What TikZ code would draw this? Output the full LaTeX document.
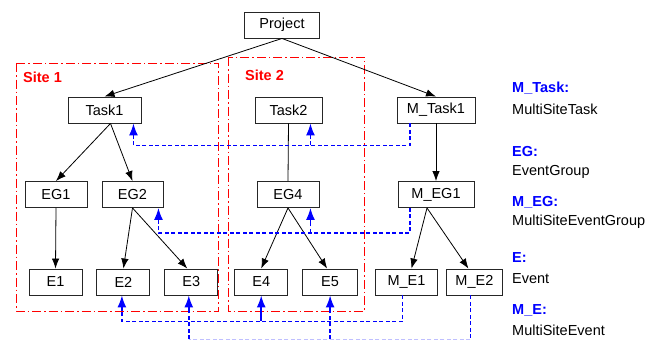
\documentclass[tikz,border=0pt]{standalone}
\usepackage{fontspec}
\setmainfont{Liberation Sans}
\usetikzlibrary{positioning}
\usetikzlibrary{arrows.meta}
\tikzset{>={Latex[width=7.5pt,length=10pt]}}

\begin{document}
\begin{tikzpicture}[x=1pt, y=-1pt, box/.style={rectangle, draw=black!85, line width=0.9pt, minimum height=26pt, inner sep=0pt, font=\fontsize{14.5}{17}\selectfont}, ebox/.style={box, minimum width=53pt}, link/.style={->, line width=0.8pt}, bus/.style={draw=blue, line width=1.5pt, dash pattern=on 4pt off 2.5pt}, bustip/.style={draw=blue, line width=1.5pt, -{Latex[width=9pt,length=12pt]}}, sitebox/.style={draw=red, line width=0.9pt, dash pattern=on 9pt off 3pt on 1.5pt off 3pt}, sitename/.style={text=red, font=\fontsize{14.5}{17}\selectfont\bfseries, anchor=west, inner sep=0pt}, keyname/.style={text=blue, font=\fontsize{14.5}{17}\selectfont\bfseries, anchor=west, inner sep=0pt}, keytext/.style={font=\fontsize{14.5}{17}\selectfont, anchor=west, inner sep=0pt}]
    \useasboundingbox (0,0) rectangle (662,340);
    
    %Sites
    \draw[sitebox] (16,63) rectangle (218,311);
    \draw[sitebox] (228,57) rectangle (364,311);
    \node[sitename](site1) at (23,77){Site 1};
    \node[sitename](site2) at (245,75){Site 2};
    
    %Nodes
    \node[box, minimum width=75pt](project) at (282,25){Project};
    \node[box, minimum width=73pt](task1) at (104.5,110){Task1};
    \node[box, minimum width=67pt](task2) at (288.5,110){Task2};
    \node[box, minimum width=78pt](mtask1) at (436,110){M\_Task1};
    \node[box, minimum width=62pt](eg1) at (56,194.5){EG1};
    \node[box, minimum width=61pt](eg2) at (132.5,194.5){EG2};
    \node[box, minimum width=62pt](eg4) at (288,194.5){EG4};
    \node[box, minimum width=76pt](meg1) at (436,194.5){M\_EG1};
    \node[ebox](e1) at (55.5,282){E1};
    \node[ebox](e2)[right=14pt of e1]{E2};
    \node[ebox](e3)[right=14pt of e2]{E3};
    \node[ebox](e4)[right=16pt of e3]{E4};
    \node[ebox, minimum width=55pt](e5)[right=14pt of e4]{E5};
    \node[box, minimum width=62pt](me1)[right=17pt of e5]{M\_E1};
    \node[box, minimum width=56pt](me2)[right=8pt of me1]{M\_E2};
    
    %Legend
    \node[keyname](kmtask) at (512,88){M\_Task:};
    \node[keytext](dmtask) at (512,109){MultiSiteTask};
    \node[keyname](keg) at (512,152){EG:};
    \node[keytext](deg) at (512,172){EventGroup};
    \node[keyname](kmeg) at (512,202){M\_EG:};
    \node[keytext](dmeg) at (512,222){MultiSiteEventGroup};
    \node[keyname](ke) at (512,258){E:};
    \node[keytext](de) at (512,279){Event};
    \node[keyname](kme) at (512,310){M\_E:};
    \node[keytext](dme) at (512,330){MultiSiteEvent};
    
    %Lines
    \draw[link] (project.south) -- (task1.north);
    \draw[link] (project.south) -- (mtask1.north);
    \draw[link] ([xshift=6pt]task1.south) -- (eg1.north);
    \draw[link] ([xshift=6pt]task1.south) -- (eg2.north);
    \draw[line width=0.8pt] (task2.south) -- (eg4.north);
    \draw[link] (mtask1.south) -- (meg1.north);
    \draw[link] (eg1.south) -- (e1.north);
    \draw[link] (eg2.south) -- (e2.north);
    \draw[link] (eg2.south) -- ([xshift=-4pt]e3.north);
    \draw[link] (eg4.south) -- (e4.north);
    \draw[link] (eg4.south) -- ([xshift=-3pt]e5.north);
    \draw[link] ([xshift=-9pt]meg1.south) -- ([xshift=5pt]me1.north);
    \draw[link] ([xshift=-9pt]meg1.south) -- ([xshift=-6pt]me2.north);
    
    %Multi-site links (dashed bus, solid tip)
    \path ([xshift=-26pt]mtask1.south) ++(0,22) coordinate (taskbus);
    \draw[bus] ([xshift=-26pt]mtask1.south) -- (taskbus) -| ([xshift=-8pt,yshift=-16pt]task1.south east);
    \draw[bustip] ([xshift=-8pt,yshift=-16pt]task1.south east) -- ([xshift=-8pt]task1.south east);
    \draw[bus] ([xshift=-12pt]task2.south east |- taskbus) -- ([xshift=-12pt,yshift=-16pt]task2.south east);
    \draw[bustip] ([xshift=-12pt,yshift=-16pt]task2.south east) -- ([xshift=-12pt]task2.south east);
    \path ([xshift=-26pt]meg1.south) ++(0,25) coordinate (groupbus);
    \draw[bus] ([xshift=-26pt]meg1.south) -- (groupbus) -| ([xshift=-5pt,yshift=-16pt]eg2.south east);
    \draw[bustip] ([xshift=-5pt,yshift=-16pt]eg2.south east) -- ([xshift=-5pt]eg2.south east);
    \draw[bus] ([xshift=-9pt]eg4.south east |- groupbus) -- ([xshift=-9pt,yshift=-16pt]eg4.south east);
    \draw[bustip] ([xshift=-9pt,yshift=-16pt]eg4.south east) -- ([xshift=-9pt]eg4.south east);
    \path ([xshift=-4pt]me1.south) ++(0,26) coordinate (eventbus);
    \draw[bus] ([xshift=-4pt]me1.south) -- (eventbus) -| ([xshift=-1.5pt,yshift=-16pt]e2.south);
    \draw[bustip] ([xshift=-1.5pt,yshift=-16pt]e2.south) -- ([xshift=-1.5pt]e2.south);
    \draw[bustip] (e4.south |- eventbus) -- (e4.south);
    \path ([xshift=-4pt]me2.south) ++(0,44) coordinate (lowbus);
    \draw[bus] ([xshift=-4pt]me2.south) -- (lowbus);
    \draw[bus, draw=blue!25] (lowbus) -- ([xshift=-2.5pt]e3.south |- lowbus);
    \draw[bus] ([xshift=-2.5pt]e3.south |- lowbus) -- ([xshift=-2.5pt,yshift=-16pt]e3.south);
    \draw[bustip] ([xshift=-2.5pt,yshift=-16pt]e3.south) -- ([xshift=-2.5pt]e3.south);
    \draw[bus] (e5.south |- lowbus) -- ([yshift=-16pt]e5.south);
    \draw[bustip] ([yshift=-16pt]e5.south) -- (e5.south);
    
\end{tikzpicture}
\end{document}
